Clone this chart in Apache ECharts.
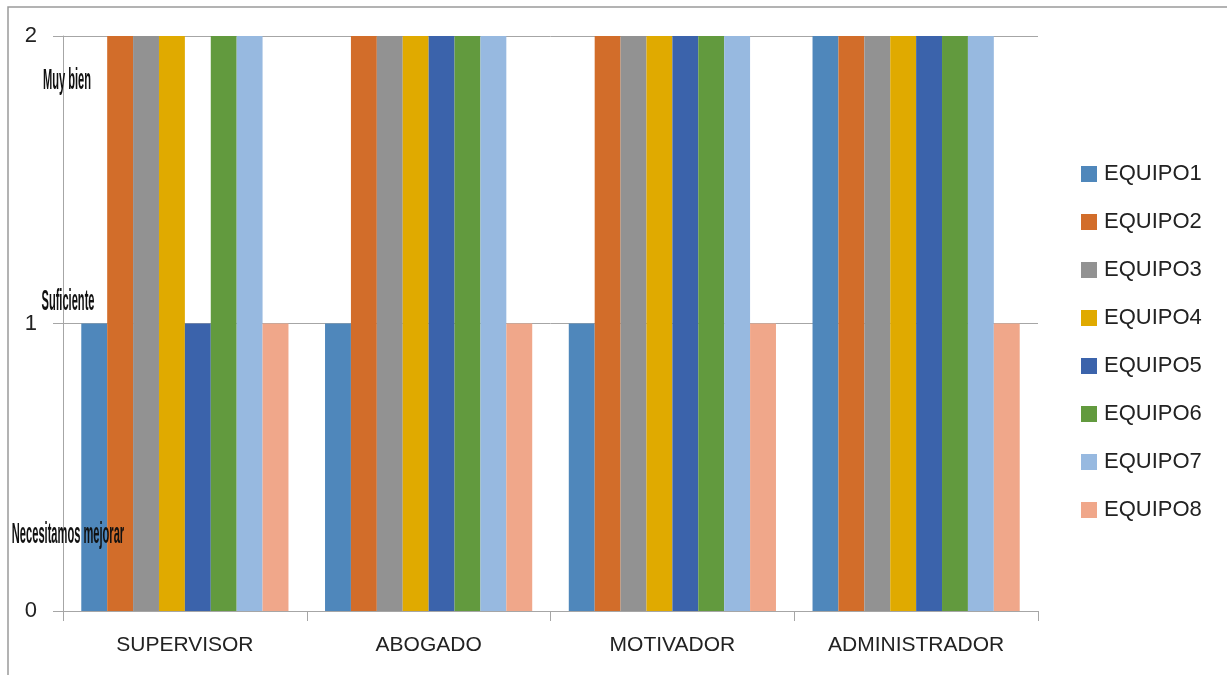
<!DOCTYPE html>
<html><head><meta charset="utf-8">
<script src="https://cdn.jsdelivr.net/npm/echarts@6/dist/echarts.min.js"></script>
<style>html,body{margin:0;padding:0;background:#fff}#c{width:1227px;height:675px}</style>
</head><body><div id="c"></div>
<script>
const categories = ['SUPERVISOR', 'ABOGADO', 'MOTIVADOR', 'ADMINISTRADOR'];
const seriesNames = ['EQUIPO1','EQUIPO2','EQUIPO3','EQUIPO4','EQUIPO5','EQUIPO6','EQUIPO7','EQUIPO8'];
const equipo1 = [1, 1, 1, 2];
const equipo2 = [2, 2, 2, 2];
const equipo3 = [2, 2, 2, 2];
const equipo4 = [2, 2, 2, 2];
const equipo5 = [1, 2, 2, 2];
const equipo6 = [2, 2, 2, 2];
const equipo7 = [2, 2, 2, 2];
const equipo8 = [1, 1, 1, 1];
const yTicks = [0, 1, 2];
const levelLabels = ['Muy bien', 'Suficiente', 'Necesitamos mejorar'];

const seriesData = [equipo1, equipo2, equipo3, equipo4, equipo5, equipo6, equipo7, equipo8];
const colors = ['#4f87bb','#d26d2a','#929292','#e0aa00','#3b63ab','#629a3e','#97b9e0','#f0a78a'];
const font = 'Liberation Sans, Arial, sans-serif';

const chart = echarts.init(document.getElementById('c'));
chart.setOption({
  animation: false,
  backgroundColor: '#fff',
  color: colors,
  grid: { left: 63, right: 189, top: 36, bottom: 64, containLabel: false },
  legend: {
    orient: 'vertical', left: 1076, top: 158,
    itemWidth: 16, itemHeight: 16, itemGap: 26,
    icon: 'rect',
    textStyle: { fontFamily: font, fontSize: 22, color: '#222', padding: [0,0,0,2] },
    data: seriesNames
  },
  xAxis: {
    type: 'category', data: categories, boundaryGap: true,
    axisLine: { lineStyle: { color: '#a6a6a6', width: 1 } },
    axisTick: { show: true, length: 10, alignWithLabel: false, lineStyle: { color: '#a6a6a6' } },
    axisLabel: { fontFamily: font, fontSize: 21, color: '#222', margin: 24, interval: 0 }
  },
  yAxis: {
    type: 'value', min: yTicks[0], max: yTicks[yTicks.length-1], interval: 1,
    axisLine: { show: true, lineStyle: { color: '#a6a6a6', width: 1 } },
    axisTick: { show: true, length: 10, lineStyle: { color: '#a6a6a6' } },
    axisLabel: { fontFamily: font, fontSize: 22, color: '#222', margin: 26 },
    splitLine: { show: true, lineStyle: { color: '#a6a6a6', width: 1 } }
  },
  series: seriesNames.map((n, i) => ({
    name: n, type: 'bar', data: seriesData[i],
    barGap: '0%', barCategoryGap: '15%',
    itemStyle: { color: colors[i] }
  })),
  graphic: [
    { type: 'rect', shape: { x: 8, y: 7, width: 1400, height: 900 }, style: { fill: 'none', stroke: '#9a9a9a', lineWidth: 1.5 }, silent: true, z: -1 },
    { type: 'text', x: 67, y: 81, scaleX: 0.37, style: { text: levelLabels[0], fontFamily: font, fontWeight: 'bold', fontSize: 30, fill: '#111', align: 'center', verticalAlign: 'middle' }, z: 10 },
    { type: 'text', x: 68, y: 302, scaleX: 0.37, style: { text: levelLabels[1], fontFamily: font, fontWeight: 'bold', fontSize: 30, fill: '#111', align: 'center', verticalAlign: 'middle' }, z: 10 },
    { type: 'text', x: 68, y: 535, scaleX: 0.37, style: { text: levelLabels[2], fontFamily: font, fontWeight: 'bold', fontSize: 30, fill: '#111', align: 'center', verticalAlign: 'middle' }, z: 10 }
  ]
});
</script></body></html>
